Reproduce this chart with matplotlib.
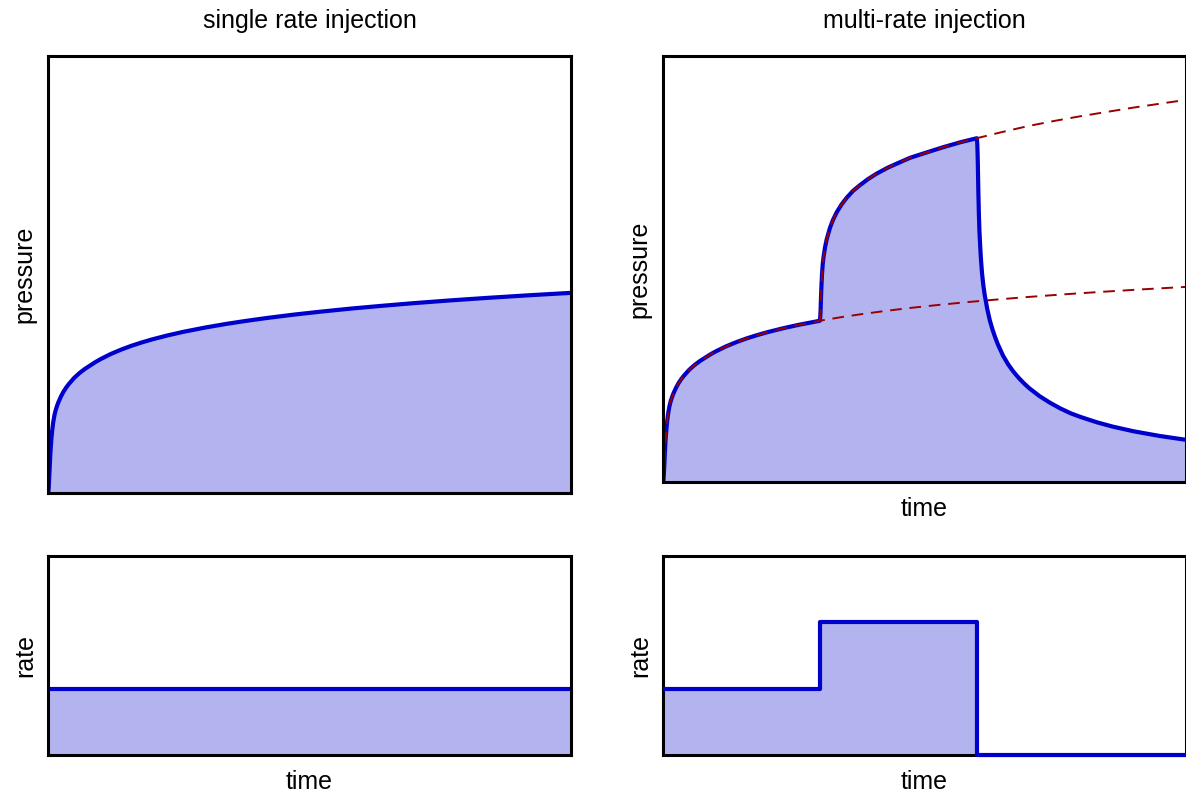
import numpy as np
import matplotlib.pyplot as plt

plt.rcParams['font.family'] = ['Liberation Sans', 'DejaVu Sans']

# pressure response to a constant rate (axis units 0..1)
t_single = [0.0, 0.0005, 0.001, 0.0015, 0.002, 0.003, 0.004, 0.005, 0.0065, 0.008,
            0.010, 0.0125, 0.015, 0.0175, 0.02, 0.025, 0.03, 0.035, 0.04, 0.05,
            0.06, 0.07, 0.08, 0.09, 0.10, 0.12, 0.14, 0.16, 0.18, 0.20,
            0.23, 0.26, 0.30, 0.34, 0.38, 0.42, 0.47, 0.52, 0.58, 0.64,
            0.70, 0.77, 0.84, 0.92, 1.0]
p_single = [0.0, 0.002, 0.007, 0.016, 0.028, 0.052, 0.078, 0.100, 0.124, 0.143,
            0.162, 0.179, 0.191, 0.200, 0.208, 0.2215, 0.2326, 0.2417, 0.2496, 0.2633,
            0.2743, 0.2835, 0.2913, 0.2991, 0.3060, 0.3181, 0.3282, 0.3371, 0.3448, 0.3518,
            0.3610, 0.3691, 0.3785, 0.3868, 0.3941, 0.4007, 0.4082, 0.4148, 0.4221, 0.4285,
            0.4345, 0.4408, 0.4465, 0.4525, 0.458]

# multi-rate pressure once the rate doubles (0.3 < t <= 0.6)
t_multi_up = [0.3005, 0.301, 0.3015, 0.302, 0.303, 0.304, 0.3054, 0.307, 0.3098,
              0.313, 0.3193, 0.325, 0.332, 0.341, 0.351, 0.363, 0.3767, 0.392,
              0.4086, 0.43, 0.45, 0.4723, 0.50, 0.536, 0.57, 0.60]
p_multi_up = [0.384, 0.395, 0.410, 0.430, 0.462, 0.487, 0.5115, 0.5285, 0.551,
              0.5696, 0.5969, 0.6152, 0.6328, 0.6508, 0.667, 0.683, 0.697, 0.711,
              0.724, 0.738, 0.749, 0.761, 0.772, 0.786, 0.798, 0.807]

# after shut-in (t > 0.6)
t_multi_down = [0.6005, 0.601, 0.6015, 0.602, 0.603, 0.604, 0.605, 0.6065, 0.608,
                0.610, 0.6125, 0.615, 0.620, 0.625, 0.630, 0.635, 0.640, 0.650,
                0.660, 0.670, 0.680, 0.690, 0.700, 0.72, 0.74, 0.76, 0.78, 0.80,
                0.83, 0.86, 0.90, 0.95, 1.0]
p_multi_down = [0.802, 0.791, 0.772, 0.745, 0.680, 0.628, 0.590, 0.553, 0.522,
                0.490, 0.462, 0.440, 0.406, 0.379, 0.358, 0.340, 0.324, 0.297,
                0.276, 0.259, 0.2446, 0.2318, 0.2205, 0.2015, 0.186, 0.1725, 0.161, 0.152,
                0.140, 0.130, 0.119, 0.108, 0.099]

# rate-2 response continued past shut-in (dashed)
t_rate2_tail = [0.65, 0.70, 0.75, 0.80, 0.85, 0.90, 0.95, 1.0]
p_rate2_tail = [0.822, 0.836, 0.848, 0.859, 0.869, 0.879, 0.888, 0.897]

# injection rate schedules
t_rate = [0.0, 0.3, 0.6, 1.0]
q_single = [1, 1, 1, 1]
q_multi = [1, 2, 0, 0]

line_col = '#0000cc'
fill_col = '#b3b3f0'
dash_col = '#990000'
fs = 18

W, H = 1186, 793
fig = plt.figure(figsize=(W / 100, H / 100), dpi=100)


def make_ax(left, top, right, bottom):
    ax = fig.add_axes([left / W, 1 - bottom / H, (right - left) / W, (bottom - top) / H])
    ax.set_xticks([])
    ax.set_yticks([])
    for s in ax.spines.values():
        s.set_linewidth(2.2)
    ax.set_xlim(0, 1)
    return ax


ax1 = make_ax(48, 56, 571, 493)
ax2 = make_ax(48, 556, 571, 755)
ax3 = make_ax(663, 56, 1186, 482)
ax4 = make_ax(663, 556, 1186, 755)

line_kw = dict(color=line_col, lw=3, solid_joinstyle='round', solid_capstyle='butt')
dash_kw = dict(color=dash_col, lw=1.4, ls=(0, (6, 4)))

# single rate
ax1.fill_between(t_single, 0, p_single, color=fill_col, lw=0)
ax1.plot(t_single, p_single, **line_kw)
ax1.set_ylim(0, 1)
ax1.set_title('single rate injection', fontsize=fs, pad=20)
ax1.set_ylabel('pressure', fontsize=fs, labelpad=8)

ax2.fill_between(t_rate, 0, q_single, step='post', color=fill_col, lw=0)
ax2.plot(t_rate, q_single, drawstyle='steps-post', **line_kw)
ax2.set_ylim(0, 3)
ax2.set_ylabel('rate', fontsize=fs, labelpad=8)
ax2.set_xlabel('time', fontsize=fs, labelpad=11)

# multi rate
n_first = t_single.index(0.30) + 1
t_multi = t_single[:n_first] + t_multi_up + t_multi_down
p_multi = p_single[:n_first] + p_multi_up + p_multi_down
t_rate2 = [0.30] + t_multi_up + t_rate2_tail
p_rate2 = [p_single[n_first - 1]] + p_multi_up + p_rate2_tail

ax3.fill_between(t_multi, 0, p_multi, color=fill_col, lw=0)
ax3.plot(t_multi, p_multi, **line_kw)
ax3.plot(t_single, p_single, **dash_kw)
ax3.plot(t_rate2, p_rate2, **dash_kw)
ax3.set_ylim(0, 1)
ax3.set_title('multi-rate injection', fontsize=fs, pad=20)
ax3.set_ylabel('pressure', fontsize=fs, labelpad=8)
ax3.set_xlabel('time', fontsize=fs, labelpad=11)

ax4.fill_between(t_rate, 0, q_multi, step='post', color=fill_col, lw=0)
ax4.plot(t_rate, q_multi, drawstyle='steps-post', clip_on=False, zorder=3, **line_kw)
ax4.set_ylim(0, 3)
ax4.set_ylabel('rate', fontsize=fs, labelpad=8)
ax4.set_xlabel('time', fontsize=fs, labelpad=11)

fig.savefig('out.png', dpi=100)
